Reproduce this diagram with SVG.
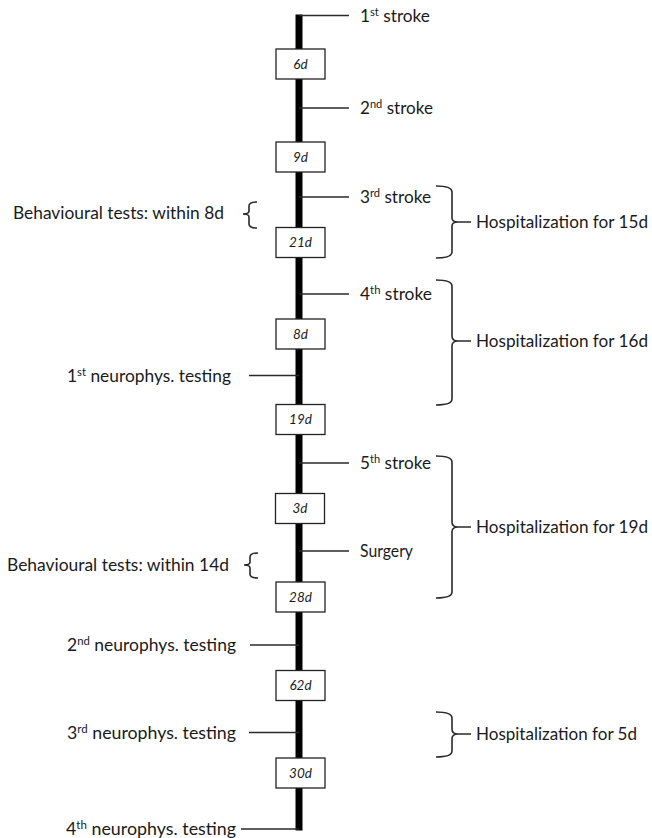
<svg xmlns="http://www.w3.org/2000/svg" width="652" height="838" viewBox="0 0 652 838">
<style>
text{font-family:"Lato","Liberation Sans",sans-serif;font-size:17px;fill:#1a1a1a}
.box rect{fill:#fff;stroke:#222;stroke-width:1.3}
.box text{font-size:13.5px;font-style:italic;text-anchor:middle}
.tick{stroke:#2a2a2a;stroke-width:1.4;fill:none}
.brace{stroke:#2a2a2a;stroke-width:1.6;fill:none}
.sup{font-size:11px}
</style>
<rect width="652" height="838" fill="#fff"/>
<g id="connectors">
<rect id="timeline" x="295.5" y="14.5" width="7" height="816" fill="#000"/>
<line class="tick" x1="299" y1="15.5" x2="349" y2="15.5"/>
<line class="tick" x1="299" y1="108" x2="349" y2="108"/>
<line class="tick" x1="299" y1="197" x2="349" y2="197"/>
<line class="tick" x1="299" y1="294" x2="349" y2="294"/>
<line class="tick" x1="249" y1="375.5" x2="299" y2="375.5"/>
<line class="tick" x1="299" y1="463" x2="349" y2="463"/>
<line class="tick" x1="299" y1="551" x2="349" y2="551"/>
<line class="tick" x1="250" y1="645" x2="299" y2="645"/>
<line class="tick" x1="249" y1="732.5" x2="299" y2="732.5"/>
<line class="tick" x1="241" y1="829" x2="299" y2="829"/>
</g>
<g id="box-6d" class="box"><rect x="276" y="49" width="49" height="30"/><text x="300.5" y="68.5">6d</text></g>
<g id="box-9d" class="box"><rect x="276" y="142" width="49" height="30"/><text x="300.5" y="161.5">9d</text></g>
<g id="box-21d" class="box"><rect x="276" y="227.5" width="49" height="30"/><text x="300.5" y="247">21d</text></g>
<g id="box-8d" class="box"><rect x="276" y="319" width="49" height="30"/><text x="300.5" y="338.5">8d</text></g>
<g id="box-19d" class="box"><rect x="276" y="404.5" width="49" height="30"/><text x="300.5" y="424">19d</text></g>
<g id="box-3d" class="box"><rect x="275.5" y="493.5" width="49" height="30"/><text x="300" y="513">3d</text></g>
<g id="box-28d" class="box"><rect x="276" y="582" width="49" height="30"/><text x="300.5" y="601.5">28d</text></g>
<g id="box-62d" class="box"><rect x="276" y="670.5" width="49" height="30"/><text x="300.5" y="690">62d</text></g>
<g id="box-30d" class="box"><rect x="276" y="758" width="49" height="30"/><text x="300.5" y="777.5">30d</text></g>
<g id="ev-stroke1"><text x="360" y="21.5" textLength="70" lengthAdjust="spacingAndGlyphs">1<tspan class="sup" dy="-6">st</tspan><tspan dy="6"> stroke</tspan></text></g>
<g id="ev-stroke2"><text x="360" y="114" textLength="73" lengthAdjust="spacingAndGlyphs">2<tspan class="sup" dy="-6">nd</tspan><tspan dy="6"> stroke</tspan></text></g>
<g id="ev-stroke3"><text x="360" y="203" textLength="71" lengthAdjust="spacingAndGlyphs">3<tspan class="sup" dy="-6">rd</tspan><tspan dy="6"> stroke</tspan></text></g>
<g id="ev-stroke4"><text x="360" y="300" textLength="72" lengthAdjust="spacingAndGlyphs">4<tspan class="sup" dy="-6">th</tspan><tspan dy="6"> stroke</tspan></text></g>
<g id="ev-stroke5"><text x="360" y="469" textLength="71" lengthAdjust="spacingAndGlyphs">5<tspan class="sup" dy="-6">th</tspan><tspan dy="6"> stroke</tspan></text></g>
<g id="ev-surgery"><text x="360" y="557" textLength="53" lengthAdjust="spacingAndGlyphs">Surgery</text></g>
<g id="ev-neuro1"><text x="67" y="381.5" textLength="164" lengthAdjust="spacingAndGlyphs">1<tspan class="sup" dy="-6">st</tspan><tspan dy="6"> neurophys. testing</tspan></text></g>
<g id="ev-neuro2"><text x="67" y="651" textLength="169" lengthAdjust="spacingAndGlyphs">2<tspan class="sup" dy="-6">nd</tspan><tspan dy="6"> neurophys. testing</tspan></text></g>
<g id="ev-neuro3"><text x="67" y="738.5" textLength="169" lengthAdjust="spacingAndGlyphs">3<tspan class="sup" dy="-6">rd</tspan><tspan dy="6"> neurophys. testing</tspan></text></g>
<g id="ev-neuro4"><text x="66" y="835" textLength="170" lengthAdjust="spacingAndGlyphs">4<tspan class="sup" dy="-6">th</tspan><tspan dy="6"> neurophys. testing</tspan></text></g>
<g id="beh-8d">
<path class="brace" d="M257,202 Q249,202 249,206 L249,211 Q249,214 243,214 Q249,214 249,217 L249,224 Q249,228 257,228"/>
<text x="13" y="219" textLength="211" lengthAdjust="spacingAndGlyphs">Behavioural tests: within 8d</text>
</g>
<g id="beh-14d">
<path class="brace" d="M258,553 Q250,553 250,557 L250,562 Q250,565 244,565 Q250,565 250,568 L250,574 Q250,578 258,578"/>
<text x="7" y="571" textLength="222" lengthAdjust="spacingAndGlyphs">Behavioural tests: within 14d</text>
</g>
<g id="hosp-15d">
<path class="brace" d="M436,186 Q452,186 452,192 L452,218 Q452,222 458,222 Q452,222 452,226 L452,252 Q452,258 436,258 M458,222 L471,222"/>
<text x="476" y="228" textLength="172" lengthAdjust="spacingAndGlyphs">Hospitalization for 15d</text>
</g>
<g id="hosp-16d">
<path class="brace" d="M436,280 Q452,280 452,286 L452,336 Q452,341 458,341 Q452,341 452,346 L452,399 Q452,405 436,405 M458,341 L471,341"/>
<text x="476" y="347" textLength="172" lengthAdjust="spacingAndGlyphs">Hospitalization for 16d</text>
</g>
<g id="hosp-19d">
<path class="brace" d="M436,456 Q452,456 452,462 L452,522 Q452,527 458,527 Q452,527 452,532 L452,592 Q452,598 436,598 M458,527 L471,527"/>
<text x="476" y="533" textLength="172" lengthAdjust="spacingAndGlyphs">Hospitalization for 19d</text>
</g>
<g id="hosp-5d">
<path class="brace" d="M436,712 Q452,712 452,718 L452,729 Q452,734 458,734 Q452,734 452,739 L452,751 Q452,757 436,757 M458,734 L471,734"/>
<text x="476" y="740" textLength="161" lengthAdjust="spacingAndGlyphs">Hospitalization for 5d</text>
</g>
</svg>
